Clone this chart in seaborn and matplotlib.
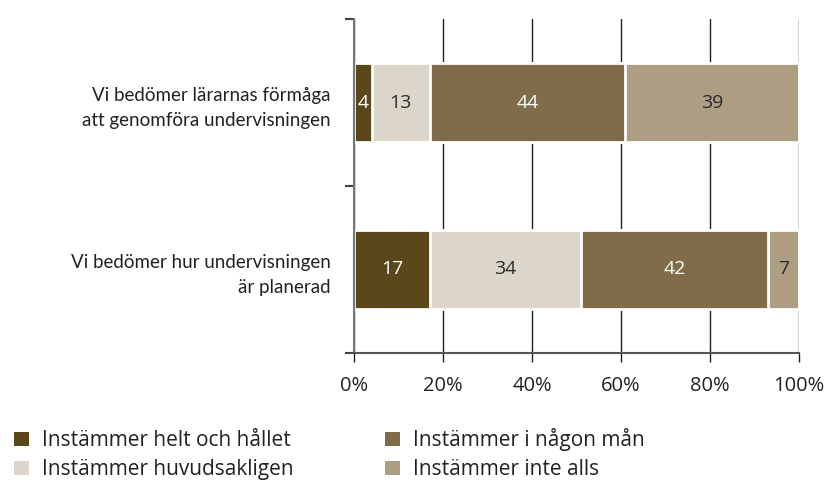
import numpy as np
import pandas as pd
import matplotlib
matplotlib.use('Agg')
import matplotlib.pyplot as plt
import seaborn as sns
from matplotlib.patches import Patch

questions = ['Vi bedömer lärarnas förmåga\natt genomföra undervisningen',
             'Vi bedömer hur undervisningen\när planerad']
series = ['Instämmer helt och hållet', 'Instämmer huvudsakligen',
          'Instämmer i någon mån', 'Instämmer inte alls']
helt = [4, 17]
huvud = [13, 34]
nagon = [44, 42]
inte = [39, 7]
colors = ['#5A481C', '#DBD5CA', '#806C48', '#AD9E83']
text_colors = ['white', '#2a2a2a', 'white', '#2a2a2a']

sns.set_style('white')
plt.rcParams['font.family'] = ['Open Sans', 'DejaVu Sans']

df = pd.DataFrame({'fraga': questions, series[0]: helt, series[1]: huvud,
                   series[2]: nagon, series[3]: inte})
vals = df[series].to_numpy(dtype=float)
cum = vals.cumsum(axis=1)

fig = plt.figure(figsize=(8.33, 4.83), dpi=100)
ax = fig.add_axes([354/833, 1-353/483, 445/833, 334/483])

# stacked bars: draw the cumulative totals from the longest down
for i in reversed(range(len(series))):
    sns.barplot(x=cum[:, i], y=df['fraga'], color=colors[i], orient='h', ax=ax,
                width=0.47, edgecolor='white', linewidth=2, saturation=1)

for j in range(len(questions)):
    for i in range(len(series)):
        left = cum[j, i] - vals[j, i]
        ax.text(left + vals[j, i] / 2, j, f'{int(vals[j, i])}', ha='center', va='center',
                color=text_colors[i], fontsize=14)

ax.set_xlim(0, 100)
ax.set_ylim(1.5, -0.5)
ax.set_xticks([0, 20, 40, 60, 80, 100])
ax.set_xticklabels(['0%', '20%', '40%', '60%', '80%', '100%'], fontsize=14.5, color='#222')
ax.set_yticks([0, 1])
ax.set_yticklabels(questions, fontsize=13.5, color='#222', ha='right', linespacing=1.55,
                   family=['Lato', 'DejaVu Sans'])
ax.set_yticks([-0.5, 0.5, 1.5], minor=True)
ax.tick_params(axis='y', which='major', length=0, pad=17)
ax.tick_params(axis='y', which='minor', length=6.5, width=1.5, color='#444', direction='out', left=True)
ax.tick_params(axis='x', length=6.5, width=1, color='#222', direction='out', bottom=True, pad=10)
ax.set_xlabel('')
ax.set_ylabel('')
ax.xaxis.grid(True, color='#222', linewidth=1)
ax.set_axisbelow(True)
for s in ['top', 'right']:
    ax.spines[s].set_visible(False)
ax.spines['left'].set_color('#777')
ax.spines['left'].set_linewidth(1.5)
ax.spines['bottom'].set_color('#555')
ax.spines['bottom'].set_linewidth(1.5)

handles = [Patch(facecolor=c, edgecolor='none') for c in colors]
fig.legend(handles, series, loc='upper left', bbox_to_anchor=(0.017, 0.113), ncol=2,
           frameon=False, fontsize=15, handlelength=0.7, handleheight=0.7,
           handletextpad=0.64, columnspacing=4.4, labelspacing=0.38, labelcolor='#222',
           borderpad=0, borderaxespad=0)

fig.savefig('out.png', dpi=100)
